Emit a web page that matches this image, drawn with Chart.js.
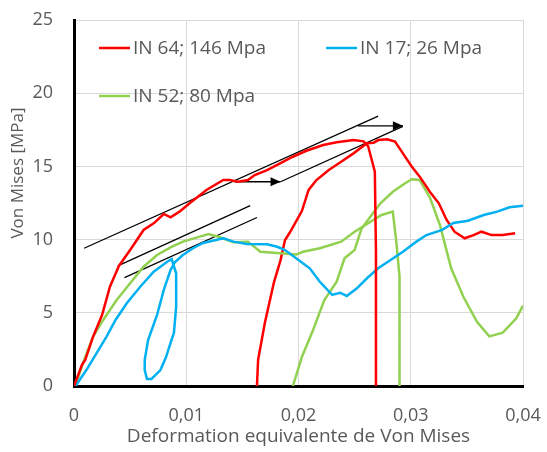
<!DOCTYPE html>
<html>
<head>
<meta charset="utf-8">
<script src="https://cdn.jsdelivr.net/npm/chart.js@4.4.0/dist/chart.umd.min.js"></script>
<style>
  html, body { margin: 0; padding: 0; background: #fff; }
  #wrap { position: relative; width: 547px; height: 452px; }
</style>
</head>
<body>
<div id="wrap"><canvas id="chart" width="547" height="452"></canvas></div>
<script>
// --- Data (strain, Von Mises stress in MPa) ---
const xTicks = [0, 0.01, 0.02, 0.03, 0.04];
const yTicks = [0, 5, 10, 15, 20, 25];

const in64Load = [
  [0, 0], [0.0001, 0.2], [0.0007, 1.43], [0.001, 1.78], [0.0017, 3.37], [0.0025, 4.85],
  [0.0032, 6.78], [0.004, 8.2], [0.005, 9.29], [0.0062, 10.66], [0.0071, 11.11],
  [0.008, 11.75], [0.0086, 11.52], [0.0094, 11.91], [0.0103, 12.48], [0.0118, 13.39],
  [0.0133, 14.07], [0.0139, 14.07], [0.0146, 13.95], [0.0155, 14.07], [0.0161, 14.41],
  [0.0172, 14.75], [0.0184, 15.23], [0.0195, 15.66], [0.0207, 16.07], [0.0222, 16.46],
  [0.0234, 16.65], [0.0249, 16.8], [0.0258, 16.71], [0.0262, 16.39], [0.0268, 14.64],
  [0.0269, 9.29], [0.0269, 0]
];
const in64Reload = [
  [0.0163, 0], [0.0164, 1.78], [0.017, 4.3], [0.0178, 7.04], [0.0184, 8.6], [0.0188, 9.97],
  [0.0192, 10.45], [0.0203, 11.95], [0.0209, 13.39], [0.0216, 14.07], [0.0227, 14.75],
  [0.0238, 15.32], [0.0249, 15.89], [0.0261, 16.58], [0.0267, 16.62], [0.0271, 16.8],
  [0.0279, 16.85], [0.0286, 16.69], [0.0293, 15.89], [0.0301, 14.98], [0.0308, 14.3],
  [0.0317, 13.27], [0.0325, 12.48], [0.0332, 11.34], [0.0339, 10.54], [0.0348, 10.09],
  [0.0356, 10.31], [0.0363, 10.54], [0.0372, 10.31], [0.0382, 10.31], [0.0393, 10.43]
];
const in17 = [
  [0, 0], [0.0002, 0.07], [0.0011, 1.09], [0.002, 2.23], [0.0029, 3.37], [0.0037, 4.51],
  [0.0047, 5.65], [0.0059, 6.78], [0.0071, 7.81], [0.0083, 8.49], [0.0087, 8.67],
  [0.0091, 7.7], [0.0091, 5.4], [0.0089, 3.62], [0.0086, 2.94], [0.0082, 1.98],
  [0.0077, 1.09], [0.0069, 0.48], [0.0065, 0.48], [0.0063, 1.09], [0.0063, 1.78],
  [0.0066, 3.14], [0.0074, 4.85], [0.008, 6.56], [0.0086, 7.92], [0.009, 8.47],
  [0.0097, 8.95], [0.0106, 9.41], [0.0115, 9.77], [0.0133, 10.09], [0.0142, 9.86],
  [0.0154, 9.7], [0.0172, 9.68], [0.0181, 9.51], [0.0188, 9.29], [0.02, 8.61],
  [0.021, 8.04], [0.0219, 7.12], [0.023, 6.22], [0.0237, 6.37], [0.0243, 6.15],
  [0.0252, 6.67], [0.0261, 7.36], [0.0271, 8.04], [0.0282, 8.61], [0.0293, 9.17],
  [0.0305, 9.86], [0.0314, 10.31], [0.0328, 10.66], [0.0338, 11.13], [0.0351, 11.29],
  [0.0365, 11.68], [0.0377, 11.91], [0.0388, 12.21], [0.04, 12.32]
];
const in52Load = [
  [0, 0], [0.0002, 0.2], [0.0008, 1.57], [0.0017, 3.37], [0.0026, 4.51], [0.0038, 5.87],
  [0.005, 7.02], [0.0062, 8.15], [0.0074, 8.95], [0.0086, 9.47], [0.0097, 9.86],
  [0.0112, 10.2], [0.012, 10.38], [0.013, 10.16], [0.0142, 9.82], [0.0155, 9.86],
  [0.0166, 9.17], [0.0184, 9.06], [0.0198, 8.98], [0.0204, 9.17], [0.0219, 9.41],
  [0.0238, 9.86], [0.025, 10.54], [0.0261, 11.07], [0.0274, 11.68], [0.0284, 11.91],
  [0.0287, 9.97], [0.029, 7.47], [0.029, 0]
];
const in52Reload = [
  [0.0195, 0], [0.0203, 1.98], [0.0213, 3.83], [0.0223, 5.87], [0.0234, 7.12], [0.0241, 8.72],
  [0.025, 9.29], [0.0256, 10.72], [0.0264, 11.56], [0.0273, 12.48], [0.0284, 13.27],
  [0.0295, 13.85], [0.0301, 14.12], [0.0308, 14.07], [0.0317, 12.88], [0.0326, 11.0],
  [0.0336, 8.04], [0.0347, 6.08], [0.0359, 4.39], [0.037, 3.39], [0.0382, 3.64],
  [0.0394, 4.62], [0.04, 5.5]
];

// hand-drawn guide lines and shift arrows
const guideUpper = [[0.0009, 9.41], [0.0271, 18.44]];
const guideUpperShifted = [[0.0184, 13.95], [0.0293, 17.74]];
const guideMid = [[0.0039, 8.2], [0.0157, 12.32]];
const guideLow = [[0.0045, 7.4], [0.0163, 11.51]];
const arrowLow = [[0.0143, 13.95], [0.0184, 13.95]];
const arrowHigh = [[0.0253, 17.77], [0.0293, 17.77]];

const RED = '#ff0000';
const BLUE = '#00b0f0';
const GREEN = '#92d050';
const TEXT = '#595959';
const FONT = '"Open Sans", sans-serif';

const pts = arr => arr.map(p => ({ x: p[0], y: p[1] }));

function curve(label, arr, color, inLegend) {
  return {
    label: label, data: pts(arr), borderColor: color, backgroundColor: color,
    borderWidth: 2.5, showLine: true, pointRadius: 0, tension: 0, fill: false,
    inLegend: inLegend
  };
}
function guide(arr, arrow) {
  return {
    label: '', data: pts(arr), borderColor: '#000', backgroundColor: '#000',
    borderWidth: 1.3, showLine: true, pointRadius: 0, tension: 0, fill: false,
    arrow: !!arrow, inLegend: false
  };
}

// legend drawn inside the plot, Excel style
const insideLegend = {
  id: 'insideLegend',
  afterDatasetsDraw(chart, args, opts) {
    const ctx = chart.ctx;
    const items = chart.data.datasets.filter(d => d.inLegend);
    ctx.save();
    ctx.font = opts.font;
    ctx.fillStyle = TEXT;
    ctx.textBaseline = 'middle';
    items.forEach((d, i) => {
      const slot = opts.slots[i];
      ctx.strokeStyle = d.borderColor;
      ctx.lineWidth = 2.5;
      ctx.beginPath();
      ctx.moveTo(slot.x, slot.y);
      ctx.lineTo(slot.x + 31, slot.y);
      ctx.stroke();
      ctx.fillText(d.label, slot.x + 34, slot.y + 1);
    });
    ctx.restore();
  }
};

// arrow heads at the end of the arrow datasets, and the rotated y title
const extras = {
  id: 'extras',
  afterDatasetsDraw(chart) {
    const ctx = chart.ctx;
    chart.data.datasets.forEach((d, i) => {
      if (!d.arrow) return;
      const meta = chart.getDatasetMeta(i);
      const a = meta.data[meta.data.length - 2];
      const b = meta.data[meta.data.length - 1];
      const ang = Math.atan2(b.y - a.y, b.x - a.x);
      ctx.save();
      ctx.translate(b.x, b.y);
      ctx.rotate(ang);
      ctx.fillStyle = '#000';
      ctx.beginPath();
      ctx.moveTo(0, 0);
      ctx.lineTo(-10, -4.5);
      ctx.lineTo(-10, 4.5);
      ctx.closePath();
      ctx.fill();
      ctx.restore();
    });
  },
  afterDraw(chart) {
    const ctx = chart.ctx;
    ctx.save();
    ctx.translate(18, 173);
    ctx.rotate(-Math.PI / 2);
    ctx.font = '17px ' + FONT;
    ctx.fillStyle = TEXT;
    ctx.textAlign = 'center';
    ctx.textBaseline = 'middle';
    ctx.fillText('Von Mises [MPa]', 0, 0);
    ctx.restore();
  }
};

const fmt = v => (v === 0 ? '0' : v.toFixed(2).replace('.', ','));

new Chart(document.getElementById('chart'), {
  type: 'scatter',
  data: {
    datasets: [
      curve('IN 64; 146 Mpa', in64Load, RED, true),
      curve('IN 17; 26 Mpa', in17, BLUE, true),
      curve('IN 52; 80 Mpa', in52Load, GREEN, true),
      curve('IN 64 reload', in64Reload, RED, false),
      curve('IN 52 reload', in52Reload, GREEN, false),
      guide(guideUpper), guide(guideUpperShifted), guide(guideMid), guide(guideLow),
      guide(arrowLow, true), guide(arrowHigh, true)
    ]
  },
  options: {
    responsive: false,
    animation: false,
    layout: { padding: { left: 0, top: 20, right: 24, bottom: 0 } },
    plugins: {
      legend: { display: false },
      tooltip: { enabled: false },
      insideLegend: {
        font: '19px ' + FONT,
        slots: [{ x: 99, y: 48 }, { x: 326, y: 48 }, { x: 99, y: 96 }]
      }
    },
    scales: {
      x: {
        type: 'linear', min: 0, max: 0.04,
        afterBuildTicks: s => { s.ticks = xTicks.map(v => ({ value: v })); },
        afterFit: s => { s.height = 66; s.paddingLeft = 0; s.paddingRight = 0; },
        ticks: { color: TEXT, font: { family: FONT, size: 18 }, padding: 19, callback: fmt, maxRotation: 0 },
        grid: { color: '#d9d9d9', lineWidth: 1, drawTicks: false },
        border: { color: '#000', width: 3 },
        title: { display: true, text: 'Deformation equivalente de Von Mises', color: TEXT,
                 font: { family: FONT, size: 19 }, padding: { top: 0, bottom: 4 } }
      },
      y: {
        min: 0, max: 25,
        afterBuildTicks: s => { s.ticks = yTicks.map(v => ({ value: v })); },
        afterFit: s => { s.width = 74; s.paddingTop = 0; s.paddingBottom = 0; },
        ticks: { color: TEXT, font: { family: FONT, size: 18 }, padding: 21 },
        grid: { color: '#d9d9d9', lineWidth: 1, drawTicks: false },
        border: { color: '#000', width: 3 }
      }
    }
  },
  plugins: [insideLegend, extras]
});
</script>
</body>
</html>
